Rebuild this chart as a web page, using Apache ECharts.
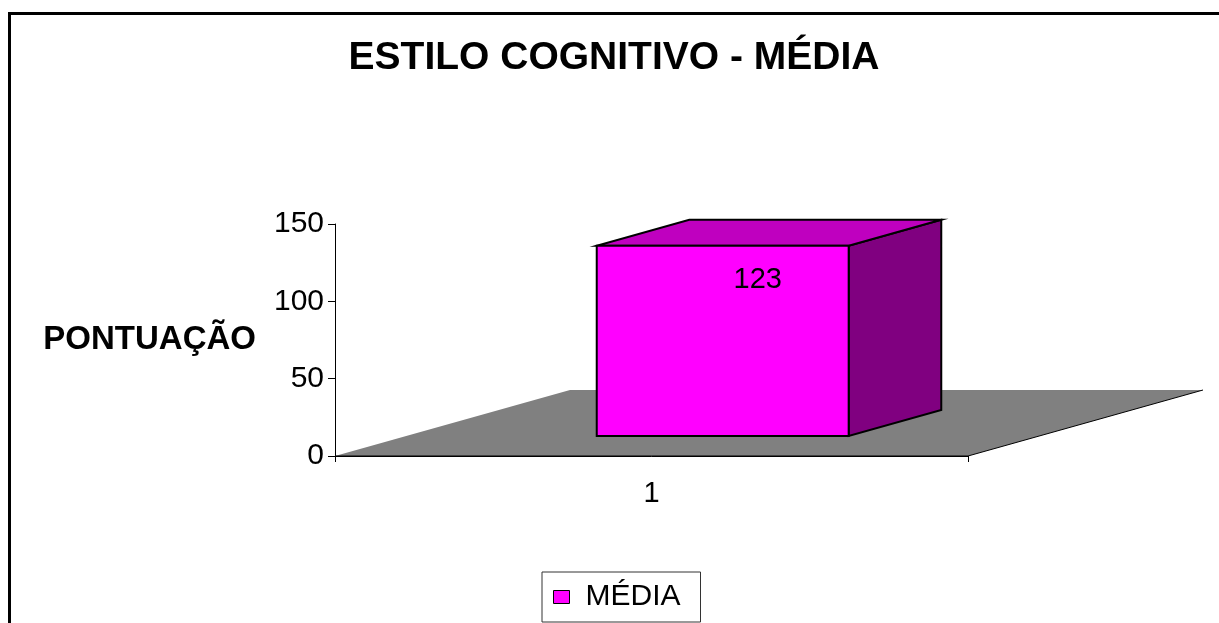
<!DOCTYPE html>
<html>
<head>
<meta charset="utf-8">
<title>Estilo Cognitivo - Média</title>
<script src="https://cdn.jsdelivr.net/npm/echarts@6/dist/echarts.min.js"></script>
<style>
  html, body { margin: 0; padding: 0; background: #fff; }
  #chart { width: 1219px; height: 623px; }
</style>
</head>
<body>
<div id="chart"></div>
<script>
// Categories and values
const categories = ['1'];
const mediaValues = [123];
const seriesName = 'MÉDIA';
const yAxisMin = 0;
const yAxisMax = 150;
const yAxisInterval = 50;

// 3D look: floor depth vector in pixels and the bar's slot inside that depth
const FLOOR_DEPTH = [235, -66];
const BAR_DEPTH_FROM = 0.303;
const BAR_DEPTH_TO = 0.697;
const BAR_WIDTH_RATIO = 0.398;

const chart = echarts.init(document.getElementById('chart'), null, { renderer: 'canvas' });

function renderFloor(params, api) {
  const cs = params.coordSys;
  const x0 = cs.x, x1 = cs.x + cs.width, y0 = cs.y + cs.height;
  const dx = FLOOR_DEPTH[0], dy = FLOOR_DEPTH[1];
  return {
    type: 'group',
    children: [
      {
        type: 'polygon',
        shape: { points: [[x0, y0], [x1, y0], [x1 + dx, y0 + dy], [x0 + dx, y0 + dy]] },
        style: { fill: '#808080', stroke: null }
      },
      {
        type: 'line',
        shape: { x1: x1, y1: y0, x2: x1 + dx, y2: y0 + dy },
        style: { stroke: '#000', lineWidth: 1 }
      },
      {
        type: 'line',
        shape: { x1: x0, y1: y0, x2: x1, y2: y0 },
        style: { stroke: '#000', lineWidth: 1 }
      }
    ]
  };
}

function renderBar(params, api) {
  const cat = api.value(0);
  const val = api.value(1);
  const base = api.coord([cat, 0]);
  const topPt = api.coord([cat, val]);
  const band = api.size([1, 0])[0];
  const w = band * BAR_WIDTH_RATIO;
  const xl = base[0] - w / 2 + FLOOR_DEPTH[0] * BAR_DEPTH_FROM;
  const xr = xl + w;
  const yb = base[1] + FLOOR_DEPTH[1] * BAR_DEPTH_FROM;
  const yt = topPt[1] + FLOOR_DEPTH[1] * BAR_DEPTH_FROM;
  const dx = FLOOR_DEPTH[0] * (BAR_DEPTH_TO - BAR_DEPTH_FROM);
  const dy = FLOOR_DEPTH[1] * (BAR_DEPTH_TO - BAR_DEPTH_FROM);
  const edge = { stroke: '#000', lineWidth: 2, lineJoin: 'miter' };
  return {
    type: 'group',
    children: [
      {
        type: 'polygon',
        shape: { points: [[xr, yt], [xr + dx, yt + dy], [xr + dx, yb + dy], [xr, yb]] },
        style: Object.assign({ fill: '#800080' }, edge)
      },
      {
        type: 'polygon',
        shape: { points: [[xl, yt], [xr, yt], [xr + dx, yt + dy], [xl + dx, yt + dy]] },
        style: Object.assign({ fill: '#BF00BF' }, edge)
      },
      {
        type: 'rect',
        shape: { x: xl, y: yt, width: w, height: yb - yt },
        style: Object.assign({ fill: '#FF00FF' }, edge)
      },
      {
        type: 'text',
        x: xl + w / 2 + 35,
        y: yt + 34,
        style: {
          text: String(val),
          fill: '#000',
          font: '29px "Liberation Sans", Arial, sans-serif',
          align: 'center',
          verticalAlign: 'middle'
        }
      }
    ]
  };
}

chart.setOption({
  backgroundColor: '#fff',
  animation: false,
  title: {
    text: 'ESTILO COGNITIVO - MÉDIA',
    left: 609,
    top: 34,
    textAlign: 'center',
    textStyle: {
      fontFamily: '"Liberation Sans", Arial, sans-serif',
      fontWeight: 'bold',
      fontSize: 39,
      color: '#000'
    }
  },
  legend: {
    data: [{
      name: seriesName,
      icon: 'rect',
      itemStyle: { color: '#FF00FF', borderColor: '#000', borderWidth: 1 }
    }],
    left: 542,
    top: 572,
    itemWidth: 16,
    itemHeight: 13,
    padding: [10, 20, 10, 11],
    borderColor: '#333',
    borderWidth: 1,
    backgroundColor: '#fff',
    textStyle: {
      fontFamily: '"Liberation Sans", Arial, sans-serif',
      fontSize: 30,
      color: '#000',
      padding: [0, 0, 0, 11]
    }
  },
  grid: { left: 335, right: 251, top: 224, bottom: 167 },
  xAxis: {
    type: 'category',
    data: categories,
    axisLine: { show: true, lineStyle: { color: '#000', width: 1 } },
    axisTick: { show: true, alignWithLabel: false, length: 6, lineStyle: { color: '#000' } },
    axisLabel: {
      margin: 23,
      color: '#000',
      fontFamily: '"Liberation Sans", Arial, sans-serif',
      fontSize: 29
    },
    splitLine: { show: false },
    z: 5
  },
  yAxis: {
    type: 'value',
    min: yAxisMin,
    max: yAxisMax,
    interval: yAxisInterval,
    name: 'PONTUAÇÃO',
    nameLocation: 'middle',
    nameRotate: 0,
    nameGap: 79,
    nameTextStyle: {
      fontFamily: '"Liberation Sans", Arial, sans-serif',
      fontWeight: 'bold',
      fontSize: 33,
      color: '#000'
    },
    axisLine: { show: true, lineStyle: { color: '#000', width: 1 } },
    axisTick: { show: true, length: 7, lineStyle: { color: '#000' } },
    axisLabel: {
      margin: 11,
      color: '#000',
      fontFamily: '"Liberation Sans", Arial, sans-serif',
      fontSize: 30
    },
    splitLine: { show: false }
  },
  graphic: [
    {
      type: 'rect',
      shape: { x: 9.5, y: 13.5, width: 1400, height: 800 },
      style: { fill: null, stroke: '#000', lineWidth: 3 },
      silent: true,
      z: 100
    }
  ],
  series: [
    {
      name: 'floor',
      type: 'custom',
      renderItem: renderFloor,
      data: [0],
      silent: true,
      z: 1
    },
    {
      name: seriesName,
      type: 'custom',
      renderItem: renderBar,
      encode: { x: 0, y: 1 },
      data: categories.map((c, i) => [i, mediaValues[i]]),
      z: 3
    }
  ]
});
</script>
</body>
</html>
